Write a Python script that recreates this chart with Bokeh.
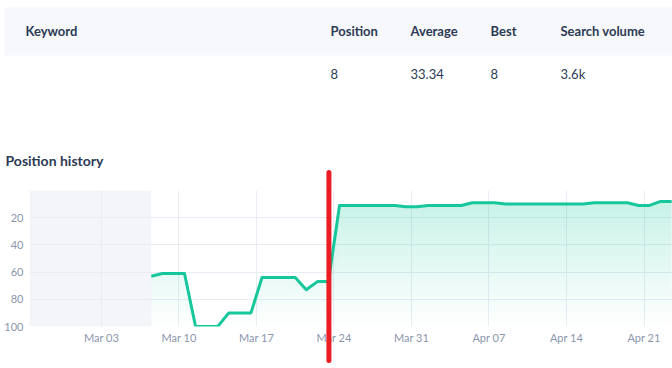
import numpy as np
import pandas as pd
from bokeh.plotting import figure
from bokeh.models import (Range1d, FixedTicker, DatetimeTickFormatter,
                          BoxAnnotation, GlobalInlineStyleSheet)
from bokeh.core.properties import value
from bokeh.embed import file_html
from bokeh.resources import INLINE

# ---------------- data ----------------
headers = ["Keyword", "Position", "Average", "Best", "Search volume"]
row_values = ["", "8", "33.34", "8", "3.6k"]
chart_title = "Position history"

start_date = "2025-03-07 12:00"
positions = [63, 61, 61, 61, 100, 100, 100, 90, 90, 90, 64, 64, 64, 64, 73, 67, 67,
             11, 11, 11, 11, 11, 11, 12, 12, 11, 11, 11, 11, 9, 9, 9,
             10, 10, 10, 10, 10, 10, 10, 10, 9, 9, 9, 9, 11, 11, 8, 8]
dates = pd.date_range(start_date, periods=len(positions), freq="D")

tick_dates = ["2025-03-03", "2025-03-10", "2025-03-17", "2025-03-24",
              "2025-03-31", "2025-04-07", "2025-04-14", "2025-04-21"]
y_ticks = [20, 40, 60, 80, 100]
marker_date = "2025-03-23 13:00"

x_start, x_end = "2025-02-24 12:00", "2025-04-23 13:45"


def ms(d):
    return pd.Timestamp(d).value / 1e6


# ---------------- styles ----------------
FONT = "Lato"
TEXT = "#2c3a55"
AXIS_TEXT = "#8b96ad"
GRID = "#e9ecf4"
TEAL = "#16c79c"

W, H = 672, 368
L, R, T, B = 29, 0, 190, 42

css = GlobalInlineStyleSheet(css="""
body{margin:0 !important; overflow:hidden;}
.ovl{position:absolute !important; left:0px !important; top:0px !important;}
""")

# ---------------- chart ----------------
p = figure(width=W, height=H, output_backend="svg", toolbar_location=None,
           x_axis_type="datetime",
           x_range=Range1d(ms(x_start), ms(x_end)),
           y_range=Range1d(100, 0),
           min_border_left=L, min_border_right=R, min_border_top=T, min_border_bottom=B,
           background_fill_color="white", border_fill_color="white")
p.outline_line_color = None
p.stylesheets = [css]

p.xaxis.ticker = FixedTicker(ticks=[ms(d) for d in tick_dates])
p.xaxis.formatter = DatetimeTickFormatter(days="%b %d", months="%b %d")
p.yaxis.ticker = FixedTicker(ticks=y_ticks)
for ax in (p.xaxis[0], p.yaxis[0]):
    ax.axis_line_color = None
    ax.major_tick_line_color = None
    ax.minor_tick_line_color = None
    ax.major_tick_in = 0
    ax.major_tick_out = 0
    ax.minor_tick_out = 0
    ax.major_label_text_font = FONT
    ax.major_label_text_font_size = "11px"
    ax.major_label_text_color = AXIS_TEXT
p.xaxis.major_label_standoff = 4
p.yaxis.major_label_standoff = 6

p.xgrid.grid_line_color = GRID
p.ygrid.grid_line_color = GRID

# no-data shaded region
p.add_layout(BoxAnnotation(right=ms(dates[0]), fill_color="#e9ebf4", fill_alpha=0.5,
                           line_color=None, level="underlay"))

# vertical gradient under the line: non-overlapping strips
vals = np.array(positions, dtype=float)
levels = np.linspace(0, 100, 51)
for a, b in zip(levels[:-1], levels[1:]):
    mid = 0.5 * (a + b)
    p.varea(x=dates, y1=np.maximum(vals, a), y2=np.maximum(vals, b),
            fill_color=TEAL, fill_alpha=0.26 * (1 - mid / 100))

p.line(dates, vals, line_color=TEAL, line_width=3, line_join="round")

# ---------------- overlay (texts, header band, marker) ----------------
pp = (ms(x_end) - ms(x_start)) / (W - L - R)
o = figure(width=W, height=H, output_backend="svg", toolbar_location=None,
           x_range=Range1d(ms(x_start) - L * pp, ms(x_end) + R * pp),
           y_range=Range1d(H, 0),
           min_border=0, x_axis_location=None, y_axis_location=None,
           background_fill_alpha=0, border_fill_alpha=0,
           css_classes=["ovl"])
o.outline_line_color = None
o.grid.visible = False
o.extra_x_ranges["px"] = Range1d(0, W)
o.stylesheets = [css]

o.quad(left=[4], right=[W], top=[7], bottom=[55], x_range_name="px",
       fill_color="#f7f8fb", line_color=None)

col_x = [25, 330, 410, 490, 560]
o.text(x=col_x, y=[30] * len(col_x), text=headers, x_range_name="px",
       text_font=value(FONT), text_font_size="13px", text_font_style="bold",
       text_color=TEXT, text_baseline="alphabetic", text_align="left")
vx = [x for x, v in zip(col_x, row_values) if v]
vt = [v for v in row_values if v]
o.text(x=vx, y=[73] * len(vx), text=vt, x_range_name="px",
       text_font=value(FONT), text_font_size="13px",
       text_color=TEXT, text_baseline="alphabetic", text_align="left")
o.text(x=[5], y=[160], text=[chart_title], x_range_name="px",
       text_font=value(FONT), text_font_size="14px", text_font_style="bold",
       text_color=TEXT, text_baseline="alphabetic", text_align="left")

o.segment(x0=[ms(marker_date)], y0=[172], x1=[ms(marker_date)], y1=[360],
          line_color="#ec1c24", line_width=5, line_cap="round")

open("out.html", "w").write(file_html([p, o], INLINE))
